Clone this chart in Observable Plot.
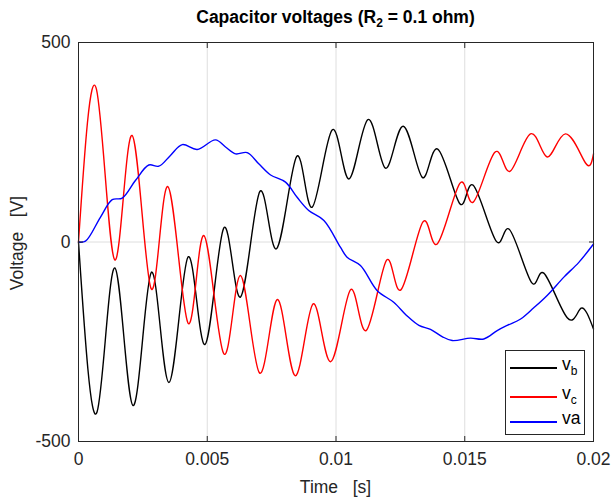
<!DOCTYPE html>
<html>
<head>
<meta charset="utf-8">
<script src="https://cdn.jsdelivr.net/npm/d3@7"></script>
<script src="https://cdn.jsdelivr.net/npm/@observablehq/plot@0.6"></script>
<style>
  body { margin: 0; background: white; }
  #wrap { position: relative; width: 615px; height: 499px; font-family: "Liberation Sans", Arial, sans-serif; color: #262626; }
  #wrap svg { position: absolute; left: 0; top: 0; }
  .ov { position: absolute; white-space: pre; }
  #title { left: 0; width: 671px; top: 7px; text-align: center; font-weight: bold; font-size: 17.5px; color: #000; }
  #title sub { font-size: 12px; vertical-align: -4px; }
  #xlabel { left: 0; width: 671px; top: 477px; text-align: center; font-size: 17.5px; }
  #ylabel { left: 17px; top: 243px; font-size: 17.5px; transform: translate(-50%, -50%) rotate(-90deg); }
  #legend { left: 505px; top: 350px; width: 78px; height: 83px; border: 1px solid #262626; background: white; }
  .lg { position: absolute; left: 4px; width: 47px; height: 2px; }
  .lt { position: absolute; left: 56px; font-size: 17.5px; color: #000; }
  .lt sub { font-size: 12px; vertical-align: -5px; }
</style>
</head>
<body>
<div id="wrap">
  <div id="title" class="ov">Capacitor voltages (R<sub>2</sub> = 0.1 ohm)</div>
  <div id="xlabel" class="ov">Time   [s]</div>
  <div id="ylabel" class="ov">Voltage   [V]</div>
</div>
<script>
// time in seconds, voltage in volts
const vbT = [0, 0.00072, 0.00141, 0.00212, 0.00283, 0.00351, 0.00425, 0.00491, 0.00564, 0.00629, 0.00704, 0.00769, 0.00847, 0.00907, 0.00985, 0.0105, 0.01124, 0.01192, 0.01261, 0.01335, 0.01395, 0.01481, 0.01533, 0.01622, 0.01674, 0.01759, 0.01807, 0.01898, 0.01952, 0.02];
const vbV = [0, -426, -65, -410, -76, -352, -38, -257, 35, -138, 126, -17, 214, 87, 281, 158, 307, 185, 290, 162, 233, 96, 142, 2, 31, -101, -78, -190, -166, -218];

const vcT = [0, 0.0007, 0.00141, 0.00208, 0.00282, 0.00347, 0.00425, 0.00487, 0.00564, 0.00629, 0.00703, 0.00772, 0.00841, 0.00911, 0.00979, 0.01056, 0.01117, 0.01196, 0.01252, 0.01337, 0.01393, 0.01481, 0.01533, 0.01617, 0.01675, 0.01755, 0.0182, 0.01891, 0.01969, 0.02];
const vcV = [0, 382, -45, 267, -117, 139, -203, 16, -280, -84, -328, -144, -335, -155, -300, -120, -222, -46, -120, 50, -5, 147, 100, 225, 177, 271, 213, 271, 198, 221];

const vaT = [0, 0.00027, 0.00085, 0.00131, 0.0017, 0.00221, 0.00273, 0.00312, 0.00357, 0.00403, 0.00461, 0.00532, 0.00571, 0.0061, 0.00655, 0.007, 0.00746, 0.00804, 0.00849, 0.00894, 0.00953, 0.01017, 0.01043, 0.01095, 0.0116, 0.01224, 0.01274, 0.01322, 0.01367, 0.01412, 0.01451, 0.01522, 0.01574, 0.01626, 0.01665, 0.01717, 0.01768, 0.0182, 0.01885, 0.01943, 0.02];
const vaV = [0, 2, 62, 106, 110, 154, 193, 190, 217, 244, 232, 256, 238, 221, 224, 196, 168, 150, 112, 79, 54, -13, -38, -59, -122, -151, -184, -209, -219, -237, -247, -241, -243, -222, -209, -193, -165, -134, -88, -51, -5];

const seriesNames = ["v_b", "v_c", "va"];
const seriesColors = ["#000000", "#ff0000", "#0000ff"];
const xTicks = [0, 0.005, 0.01, 0.015, 0.02];
const xTickLabels = ["0", "0.005", "0.01", "0.015", "0.02"];
const yTicks = [-500, 0, 500];
const yTickLabels = ["-500", "0", "500"];

const toRows = (T, V) => T.map((t, i) => ({t, v: V[i]}));
const vb = toRows(vbT, vbV), vc = toRows(vcT, vcV), va = toRows(vaT, vaV);

const lineOpts = (c, curve) => ({x: "t", y: "v", stroke: c, strokeWidth: 1.4, curve});

const chart = Plot.plot({
  width: 615, height: 499,
  marginLeft: 78, marginRight: 22, marginTop: 42, marginBottom: 58,
  x: {domain: [0, 0.02]},
  y: {domain: [-500, 500]},
  style: {fontFamily: '"Liberation Sans", Arial, sans-serif', fontSize: "17.5px", color: "#262626", background: "white", overflow: "visible"},
  marks: [
    Plot.gridX(xTicks, {stroke: "#dedede", strokeOpacity: 1, strokeWidth: 1}),
    Plot.gridY(yTicks, {stroke: "#dedede", strokeOpacity: 1, strokeWidth: 1}),
    Plot.line(vb, lineOpts(seriesColors[0], "natural")),
    Plot.line(vc, lineOpts(seriesColors[1], "natural")),
    Plot.line(va, lineOpts(seriesColors[2], "catmull-rom")),
    Plot.frame({stroke: "#262626", strokeWidth: 1}),
    Plot.axisX(xTicks, {anchor: "bottom", tickSize: -5, tickPadding: 16, label: null, tickFormat: d => xTickLabels[xTicks.indexOf(d)]}),
    Plot.axisX(xTicks, {anchor: "top", tickSize: -5, label: null, tickFormat: () => ""}),
    Plot.axisY(yTicks, {anchor: "left", tickSize: -5, tickPadding: 13, label: null, tickFormat: d => yTickLabels[yTicks.indexOf(d)]}),
    Plot.axisY(yTicks, {anchor: "right", tickSize: -5, label: null, tickFormat: () => ""})
  ]
});
const wrap = document.getElementById("wrap");
wrap.insertBefore(chart, wrap.firstChild);

// legend
const legend = document.createElement("div");
legend.id = "legend"; legend.className = "ov";
const rowsY = [16, 45, 70];
seriesNames.forEach((name, i) => {
  const ln = document.createElement("div");
  ln.className = "lg"; ln.style.top = rowsY[i] + "px"; ln.style.background = seriesColors[i];
  legend.appendChild(ln);
  const tx = document.createElement("div");
  tx.className = "lt"; tx.style.top = (rowsY[i] - 13) + "px";
  const parts = name.split("_");
  tx.innerHTML = parts.length > 1 ? parts[0] + "<sub>" + parts[1] + "</sub>" : name;
  legend.appendChild(tx);
});
wrap.appendChild(legend);
</script>
</body>
</html>
